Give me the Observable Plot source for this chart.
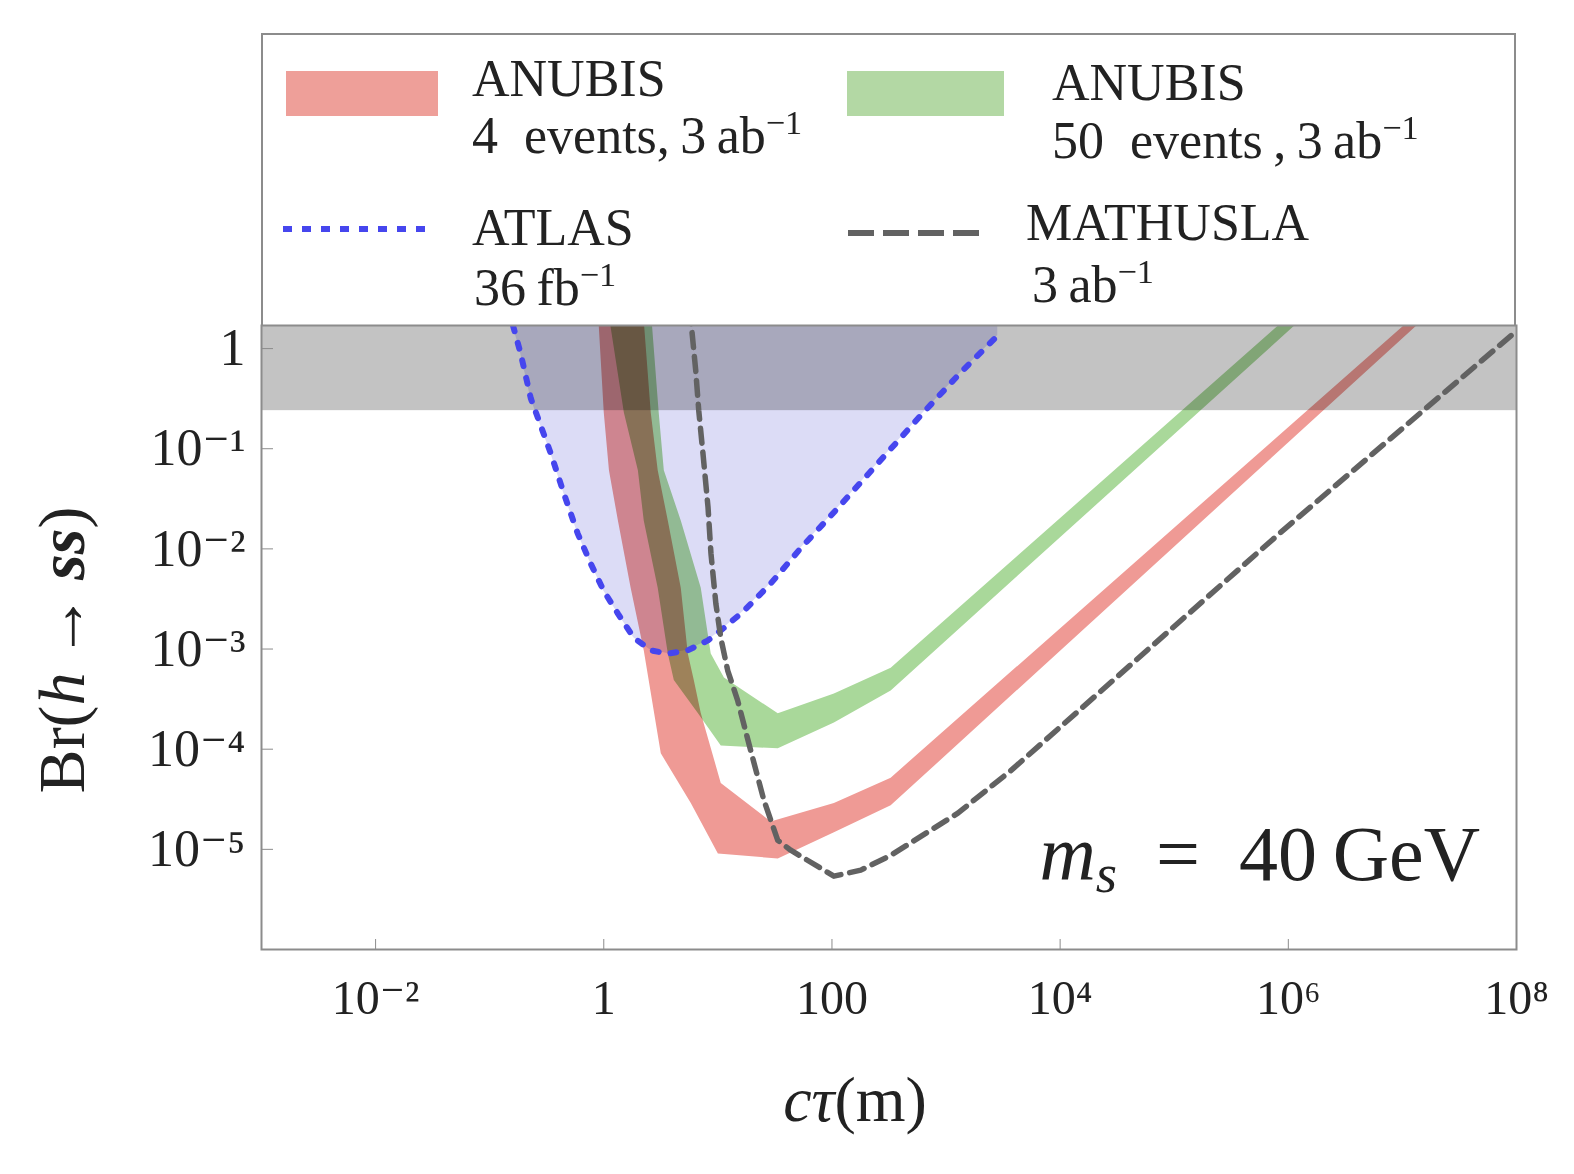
<!DOCTYPE html>
<html>
<head>
<meta charset="utf-8">
<script src="https://cdn.jsdelivr.net/npm/d3@7"></script>
<script src="https://cdn.jsdelivr.net/npm/@observablehq/plot@0.6"></script>
<style>
  html, body { margin: 0; padding: 0; background: #fff; overflow: hidden; }
  #wrap { position: relative; width: 1574px; height: 1174px; font-family: "Liberation Serif", "DejaVu Serif", serif; color: #222; }
  #chart { position: absolute; left: 0; top: 0; }
  .legend { position: absolute; left: 261px; top: 33px; width: 1255px; height: 293px; box-sizing: border-box; border: 2px solid #8c8c8c; border-bottom: none; }
  .t { position: absolute; white-space: nowrap; line-height: 1; font-size: 52px; }
  .t sup { font-size: 0.66em; vertical-align: 0.55em; line-height: 0; }
  .sw { position: absolute; }
</style>
</head>
<body>
<div id="wrap">
  <div id="chart"></div>
  <div class="legend"></div>
  <div class="sw" style="left:286px;top:71px;width:152px;height:45px;background:#ee9f99"></div>
  <div class="t" style="left:472px;top:53px">ANUBIS</div>
  <div class="t" style="left:472px;top:110px">4&ensp;events,&thinsp;3&thinsp;ab<sup>−1</sup></div>
  <div class="sw" style="left:847px;top:71px;width:157px;height:45px;background:#b3d8a4"></div>
  <div class="t" style="left:1052px;top:57px">ANUBIS</div>
  <div class="t" style="left:1052px;top:115px">50&ensp;events&thinsp;,&thinsp;3&thinsp;ab<sup>−1</sup></div>
  <svg class="sw" style="left:280px;top:221px" width="156" height="16"><line x1="3" y1="8" x2="152" y2="8" stroke="#4646ee" stroke-width="6" stroke-dasharray="9,10"/></svg>
  <div class="t" style="left:472px;top:202px">ATLAS</div>
  <div class="t" style="left:474px;top:262px">36&thinsp;fb<sup>−1</sup></div>
  <svg class="sw" style="left:846px;top:225px" width="142" height="16"><line x1="2" y1="8" x2="140" y2="8" stroke="#626262" stroke-width="6" stroke-dasharray="26,9"/></svg>
  <div class="t" style="left:1026px;top:197px">MATHUSLA</div>
  <div class="t" style="left:1032px;top:259px">3&thinsp;ab<sup>−1</sup></div>
  <div class="t" style="left:62px;top:650px;font-size:66px;transform:translate(-50%,-50%) rotate(-90deg)">Br(<i>h</i>&thinsp;→&thinsp;<i><b>ss</b></i>)</div>
  <div class="t" style="left:855px;top:1068px;font-size:64px;transform:translateX(-50%)"><i>cτ</i>(m)</div>
  <div class="t" style="right:94px;top:815px;font-size:78px"><i>m</i><sub style="font-size:0.7em;vertical-align:-0.22em;line-height:0"><i>s</i></sub>&ensp;=&ensp;40&thinsp;GeV</div>
</div>
<script>
// ---- axes ----
const ctDomain = [1e-3, 1e8];
const brDomain = [1e-6, 1.7];
const xTicks = [1e-2, 1, 100, 1e4, 1e6, 1e8];
const yTicks = [1, 1e-1, 1e-2, 1e-3, 1e-4, 1e-5];
const excludedBr = [0.24, 1.7];

// ---- ATLAS 36 fb^-1 (dotted) ----
const atlasCt = [0.16, 0.187, 0.229, 0.28, 0.343, 0.446, 0.59, 0.77, 1.0, 1.33, 1.83, 2.58, 3.64, 5.45, 8.2, 10.6, 16.9, 29, 53, 98, 220, 600, 1350, 2840];
const atlasBr = [1.7, 0.89, 0.32, 0.17, 0.09, 0.036, 0.0143, 0.0071, 0.0038, 0.00226, 0.0013, 0.00097, 0.0009, 0.00097, 0.00122, 0.00153, 0.0024, 0.0045, 0.0101, 0.0215, 0.06, 0.215, 0.58, 1.35];

// ---- MATHUSLA 3 ab^-1 (dashed) ----
const mathCt = [5.67, 6.4, 6.8, 7.4, 8.2, 8.7, 9.6, 10.6, 12.2, 14.9, 19.4, 25.3, 33.5, 43.5, 104, 179, 327, 1270, 3690, 8.57e5, 1e8];
const mathBr = [2.5, 0.6, 0.24, 0.09, 0.026, 0.009, 0.00285, 0.0013, 6.1e-4, 3.07e-4, 9.7e-5, 3.1e-5, 1.23e-5, 9.8e-6, 5.4e-6, 6.2e-6, 8.7e-6, 2.3e-5, 6.1e-5, 0.0146, 1.5];

// ---- ANUBIS 4 events (red band): lower and upper edges ----
const a4LoCt = [0.886, 1.0, 1.11, 1.33, 1.72, 2.24, 3.16, 5.79, 10, 33.5, 104, 327, 1.92e7];
const a4LoBr = [2.5, 0.23, 0.061, 0.0192, 0.0041, 9.7e-4, 9.1e-5, 2.9e-5, 9.1e-6, 8.1e-6, 1.48e-5, 2.75e-5, 2.5];
const a4HiCt = [2.2, 2.58, 2.97, 3.64, 4.73, 5.45, 6.15, 7.08, 10.6, 29, 104, 327, 1.5e7];
const a4HiBr = [2.5, 0.23, 0.061, 0.0192, 0.0041, 9.0e-4, 4.9e-4, 2.3e-4, 4.6e-5, 1.9e-5, 2.9e-5, 5.2e-5, 2.5];

// ---- ANUBIS 50 events (green band): lower and upper edges ----
const a50LoCt = [1.084, 1.5, 1.99, 2.24, 2.97, 3.64, 4.11, 6.67, 10.6, 33.5, 104, 327, 1.64e6];
const a50LoBr = [2.5, 0.23, 0.061, 0.0192, 0.0041, 9.0e-4, 4.9e-4, 2.3e-4, 1.09e-4, 1.02e-4, 1.85e-4, 3.86e-4, 2.5];
const a50HiCt = [2.58, 3.03, 3.36, 4.73, 7.08, 8.66, 11.3, 33.5, 104, 327, 1.19e6];
const a50HiBr = [2.5, 0.23, 0.061, 0.0192, 0.0041, 9.0e-4, 5.2e-4, 2.28e-4, 3.6e-4, 6.5e-4, 2.5];

const toRows = (cts, brs) => cts.map((c, i) => ({ct: c, br: brs[i]}));
const polygon = (loCt, loBr, hiCt, hiBr) => [...toRows(loCt, loBr), ...toRows(hiCt, hiBr).reverse()];

const atlas = toRows(atlasCt, atlasBr);
const mathusla = toRows(mathCt, mathBr);
const anubis4 = polygon(a4LoCt, a4LoBr, a4HiCt, a4HiBr);
const anubis50 = polygon(a50LoCt, a50LoBr, a50HiCt, a50HiBr);

const supMap = {"-": "⁻", "0": "⁰", "1": "¹", "2": "²", "3": "³", "4": "⁴", "5": "⁵", "6": "⁶", "7": "⁷", "8": "⁸", "9": "⁹"};
const sup = n => String(n).split("").map(c => supMap[c]).join("");
const fmtX = v => v === 1 ? "1" : v === 100 ? "100" : "10" + sup(Math.round(Math.log10(v)));
const fmtY = v => v === 1 ? "1" : "10" + sup(Math.round(Math.log10(v)));

const chart = Plot.plot({
  width: 1574,
  height: 1174,
  marginLeft: 261,
  marginRight: 58,
  marginTop: 325,
  marginBottom: 225,
  style: {fontFamily: "'Liberation Serif', 'DejaVu Serif', serif", color: "#222", background: "transparent"},
  x: {type: "log", domain: ctDomain, label: null},
  y: {type: "log", domain: brDomain, label: null},
  marks: [
    Plot.rect([{lo: excludedBr[0], hi: excludedBr[1]}], {y1: "lo", y2: "hi", fill: "#c3c3c3"}),
    Plot.areaY(atlas, {x: "ct", y1: "br", y2: brDomain[1], fill: "#dcdcf6", clip: true}),
    Plot.line(anubis4, {x: "ct", y: "br", fill: "#ef9a95", stroke: "none", curve: "linear-closed", clip: true}),
    Plot.line(anubis50, {x: "ct", y: "br", fill: "#a9d89a", stroke: "none", curve: "linear-closed", clip: true}),
    Plot.line(atlas, {x: "ct", y: "br", stroke: "#4646ee", strokeWidth: 6, strokeDasharray: "6,12", clip: true}),
    Plot.line(mathusla, {x: "ct", y: "br", stroke: "#626262", strokeWidth: 5.5, strokeDasharray: "15,9", clip: true}),
    Plot.frame({stroke: "#8c8c8c", strokeWidth: 2}),
    Plot.axisX({ticks: xTicks, tickSize: -10, tickFormat: () => "", stroke: "#8c8c8c", label: null}),
    Plot.axisX({ticks: xTicks, tickSize: 0, tickPadding: 30, tickFormat: fmtX, fontSize: 48, label: null}),
    Plot.axisY({ticks: yTicks, tickSize: -12, tickFormat: () => "", stroke: "#8c8c8c", label: null}),
    Plot.axisY({ticks: yTicks, tickSize: 0, tickPadding: 16, tickFormat: fmtY, fontSize: 52, label: null})
  ]
});
// blend only the filled regions (not the dotted/dashed curves) so overlaps mix like the reference
chart.querySelectorAll('g[aria-label="rect"], g[aria-label="area"]').forEach(g => {
  g.style.mixBlendMode = "multiply";
});
chart.querySelectorAll('g[aria-label="line"]').forEach(g => {
  const els = [g, ...g.querySelectorAll("*")];
  const filled = els.some(el => {
    const f = el.getAttribute("fill");
    return f && f !== "none";
  });
  if (filled) g.style.mixBlendMode = "multiply";
});
document.getElementById("chart").appendChild(chart);
</script>
</body>
</html>
